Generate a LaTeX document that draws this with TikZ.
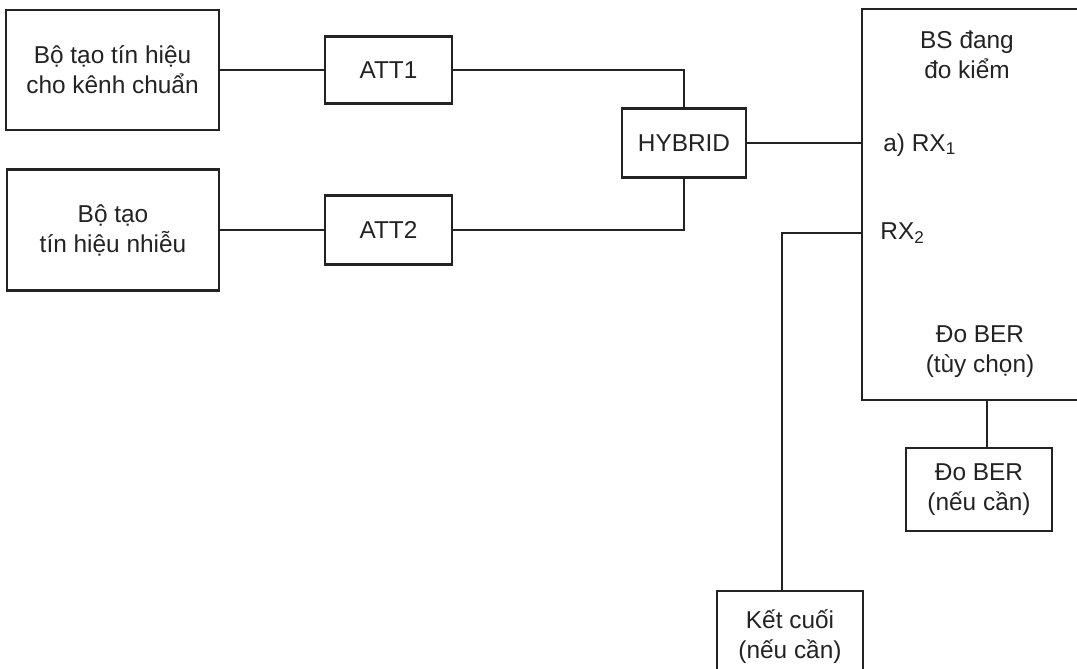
\documentclass[tikz,border=0pt]{standalone}
\usepackage{fontspec}
\setmainfont{Liberation Sans}
\usetikzlibrary{positioning,calc}
\definecolor{inkgray}{RGB}{35,35,35}

\begin{document}
\begin{tikzpicture}[
  x=0.5pt,y=0.5pt,
  font=\fontsize{12.2}{15}\selectfont,
  text=inkgray,
  wire/.style={draw=inkgray,line width=1.3pt},
  unitbox/.style={draw=inkgray,line width=1.3pt,fill=white,align=center,inner sep=2pt},
  boxlabel/.style={align=center,inner sep=0pt},
  portlabel/.style={anchor=west,inner sep=0pt}
]
\useasboundingbox (0,0) rectangle (1077,669);

% Signal sources and attenuators (y counted from the bottom edge).
\node[unitbox,minimum width=106.5pt,minimum height=60pt] (gen1) at (112.5,599)
  {Bộ tạo tín hiệu\\cho kênh chuẩn};
\node[unitbox,minimum width=106pt,minimum height=60.5pt] (gen2) at (113,439)
  {Bộ tạo\\tín hiệu nhiễu};
\node[unitbox,minimum width=63.5pt,minimum height=33.5pt] (att1) at (388.5,599) {ATT1};
\node[unitbox,minimum width=63.5pt,minimum height=34.5pt] (att2) at (388.5,439) {ATT2};
\node[unitbox,minimum width=62pt,minimum height=34.5pt] (hyb) at (684,526) {HYBRID};

% Base station under test; its right side runs past the picture edge.
\node[unitbox,minimum width=115pt,minimum height=195.5pt] (bs) at (977,464.5) {};
\node[boxlabel] (bsname) at (967,614) {BS đang\\đo kiểm};
\node[portlabel] (rx1) at (883,524) {a) RX\textsubscript{1}};
\node[portlabel] (rx2) at (880,436) {RX\textsubscript{2}};
\node[boxlabel] (berin) at (980,317) {Đo BER\\(tùy chọn)};

% Optional equipment below.
\node[unitbox,minimum width=73pt,minimum height=41.5pt] (ber) at (979,179.5)
  {Đo BER\\(nếu cần)};
\node[unitbox,minimum width=73pt,minimum height=46pt] (term) at (790,32)
  {Kết cuối\\(nếu cần)};

\draw[wire] (gen1.east) -- (att1.west);
\draw[wire] (gen2.east) -- (att2.west);
\draw[wire] (att1.east) -| (hyb.north);
\draw[wire] (att2.east) -| (hyb.south);
\draw[wire] (hyb.east) -- (hyb.east -| bs.west);
\coordinate (rx2in) at (bs.west |- rx2.west);
\draw[wire] (rx2in) -| ([xshift=-4pt]term.north);
\draw[wire] ([xshift=4pt]ber.north) -- ([xshift=4pt]ber.north |- bs.south);
\end{tikzpicture}
\end{document}
